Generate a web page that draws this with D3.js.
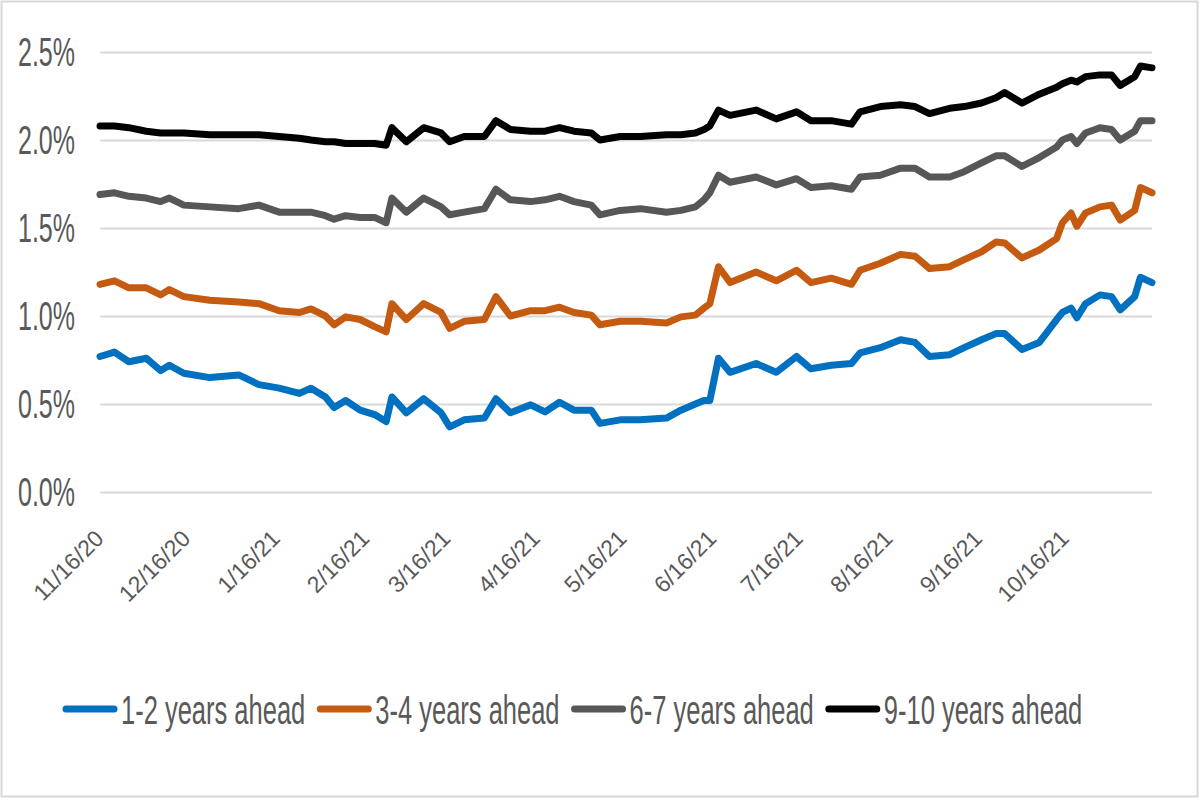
<!DOCTYPE html>
<html>
<head>
<meta charset="utf-8">
<script src="https://cdn.jsdelivr.net/npm/d3@7"></script>
<style>
  html, body { margin: 0; padding: 0; background: #fff; }
  svg { display: block; }
  text { font-family: "Liberation Sans", Arial, sans-serif; fill: #595959; }
</style>
</head>
<body>
<svg id="chart" width="1200" height="800"></svg>
<script>
// ---- data ----
const dates = [
  "2020-11-16","2020-11-21","2020-11-26","2020-12-02","2020-12-07","2020-12-10","2020-12-15","2020-12-24",
  "2021-01-03","2021-01-10","2021-01-17","2021-01-24","2021-01-28","2021-02-02","2021-02-05","2021-02-09",
  "2021-02-14","2021-02-19","2021-02-23","2021-02-25","2021-03-02","2021-03-08","2021-03-14","2021-03-17",
  "2021-03-22","2021-03-29","2021-04-02","2021-04-07","2021-04-14","2021-04-19","2021-04-24","2021-04-29",
  "2021-05-05","2021-05-08","2021-05-15","2021-05-22","2021-05-31","2021-06-05","2021-06-10","2021-06-13",
  "2021-06-15","2021-06-18","2021-06-22","2021-07-01","2021-07-08","2021-07-15","2021-07-20","2021-07-27",
  "2021-08-03","2021-08-06","2021-08-13","2021-08-20","2021-08-25","2021-08-30","2021-09-06","2021-09-11",
  "2021-09-17","2021-09-22","2021-09-25","2021-10-01","2021-10-07","2021-10-13","2021-10-15","2021-10-18",
  "2021-10-20","2021-10-23","2021-10-28","2021-11-01","2021-11-04","2021-11-09","2021-11-11","2021-11-15"
];
const years1to2 = [
  0.77,0.795,0.74,0.76,0.69,0.72,0.675,0.65,
  0.665,0.61,0.59,0.56,0.59,0.54,0.48,0.52,
  0.465,0.44,0.40,0.54,0.45,0.53,0.45,0.37,
  0.41,0.42,0.53,0.45,0.495,0.455,0.51,0.465,
  0.465,0.39,0.41,0.41,0.42,0.465,0.50,0.52,
  0.52,0.76,0.68,0.73,0.68,0.77,0.70,0.72,
  0.73,0.79,0.82,0.865,0.85,0.77,0.78,0.82,
  0.865,0.90,0.90,0.81,0.85,0.98,1.02,1.045,
  0.99,1.07,1.12,1.11,1.035,1.11,1.22,1.19
];
const years3to4 = [
  1.18,1.20,1.16,1.16,1.12,1.15,1.11,1.09,
  1.08,1.07,1.03,1.02,1.04,1.00,0.95,0.995,
  0.98,0.94,0.91,1.07,0.98,1.07,1.02,0.93,
  0.97,0.98,1.11,1.00,1.03,1.03,1.05,1.02,
  1.005,0.95,0.97,0.97,0.96,0.995,1.005,1.045,
  1.07,1.28,1.19,1.25,1.20,1.26,1.19,1.215,
  1.18,1.26,1.30,1.35,1.34,1.27,1.28,1.32,
  1.365,1.42,1.415,1.33,1.375,1.44,1.53,1.585,
  1.51,1.585,1.62,1.63,1.545,1.60,1.73,1.70
];
const years6to7 = [
  1.69,1.70,1.68,1.67,1.65,1.67,1.63,1.62,
  1.61,1.63,1.59,1.59,1.59,1.57,1.55,1.57,
  1.56,1.56,1.53,1.67,1.59,1.67,1.62,1.575,
  1.59,1.61,1.72,1.66,1.65,1.66,1.68,1.65,
  1.63,1.575,1.60,1.61,1.59,1.60,1.62,1.66,
  1.70,1.80,1.76,1.79,1.745,1.78,1.73,1.74,
  1.72,1.79,1.80,1.84,1.84,1.79,1.79,1.82,
  1.87,1.91,1.91,1.85,1.90,1.96,2.00,2.02,
  1.98,2.04,2.07,2.06,2.00,2.05,2.11,2.11
];
const years9to10 = [
  2.08,2.08,2.07,2.05,2.04,2.04,2.04,2.03,
  2.03,2.03,2.02,2.01,2.00,1.99,1.99,1.98,
  1.98,1.98,1.97,2.07,1.99,2.07,2.04,1.99,
  2.02,2.02,2.11,2.06,2.05,2.05,2.07,2.05,
  2.04,2.00,2.02,2.02,2.03,2.03,2.04,2.06,
  2.08,2.17,2.14,2.17,2.12,2.16,2.11,2.11,
  2.09,2.16,2.19,2.20,2.19,2.15,2.18,2.19,
  2.21,2.24,2.27,2.21,2.26,2.30,2.32,2.34,
  2.33,2.36,2.37,2.37,2.31,2.36,2.42,2.41
];
const seriesNames = ["1-2 years ahead","3-4 years ahead","6-7 years ahead","9-10 years ahead"];
const seriesColors = ["#0070C0","#C55A11","#575757","#000000"];
const xTickLabels = ["11/16/20","12/16/20","1/16/21","2/16/21","3/16/21","4/16/21",
                     "5/16/21","6/16/21","7/16/21","8/16/21","9/16/21","10/16/21"];
const yTicks = [0, 0.5, 1.0, 1.5, 2.0, 2.5];
const xDomain = ["2020-11-16","2021-11-15"];

// ---- drawing ----
(function () {
const parse = d3.timeParse("%Y-%m-%d");
const parseTick = d3.timeParse("%m/%d/%y");
const svg = d3.select("#chart");
const W = 1200, H = 800;
const pLeft = 100, pRight = 1152, pTop = 52, pBottom = 492;
const SY = 1.6; // vertical stretch of the reference text

svg.append("rect").attr("x", 1.5).attr("y", 1.5).attr("width", W - 4).attr("height", H - 5)
  .attr("fill", "#fff").attr("stroke", "#d9d9d9").attr("stroke-width", 2);

const x = d3.scaleTime().domain(xDomain.map(parse)).range([pLeft, pRight]);
const y = d3.scaleLinear().domain([0, 2.5]).range([pBottom, pTop]);

// gridlines + y labels
const yAxis = d3.axisLeft(y).tickValues(yTicks).tickSize(-(pRight - pLeft)).tickPadding(25)
  .tickFormat(d => d3.format(".1f")(d) + "%");
const gy = svg.append("g").attr("transform", `translate(${pLeft},0)`).call(yAxis);
gy.select(".domain").remove();
gy.selectAll(".tick line").attr("stroke", "#d9d9d9").attr("stroke-width", 2);
gy.selectAll(".tick text").attr("font-size", 25).attr("fill", "#595959")
  .attr("font-family", "Liberation Sans, Arial, sans-serif")
  .attr("transform", `scale(1,${SY})`).attr("dy", "0.33em");

// x labels
const gx = svg.append("g");
gx.selectAll("text").data(xTickLabels).enter().append("text")
  .attr("transform", d => `translate(${x(parseTick(d)) + 5},${540}) rotate(-45)`)
  .attr("text-anchor", "end")
  .attr("font-size", 23)
  .text(d => d);

// lines
const allSeries = [years1to2, years3to4, years6to7, years9to10];
const line = d3.line().x((d, i) => x(parse(dates[i]))).y(d => y(d));
svg.append("g").selectAll("path").data(allSeries).enter().append("path")
  .attr("d", d => line(d))
  .attr("fill", "none")
  .attr("stroke", (d, i) => seriesColors[i])
  .attr("stroke-width", 7)
  .attr("stroke-linejoin", "round")
  .attr("stroke-linecap", "round");

// legend
const lg = svg.append("g").attr("transform", "translate(0,709)");
let cx = 63;
seriesNames.forEach((name, i) => {
  lg.append("line").attr("x1", cx + 3).attr("x2", cx + 51).attr("y1", 0).attr("y2", 0)
    .attr("stroke", seriesColors[i]).attr("stroke-width", 7).attr("stroke-linecap", "round");
  const t = lg.append("text").attr("x", 0).attr("y", 0).attr("dy", "0.36em")
    .attr("font-size", 25.5)
    .attr("transform", `translate(${cx + 58},0) scale(1,${SY})`)
    .text(name);
  const w = t.node().getComputedTextLength();
  cx = cx + 58 + w + 12;
});
})();
</script>
</body>
</html>
